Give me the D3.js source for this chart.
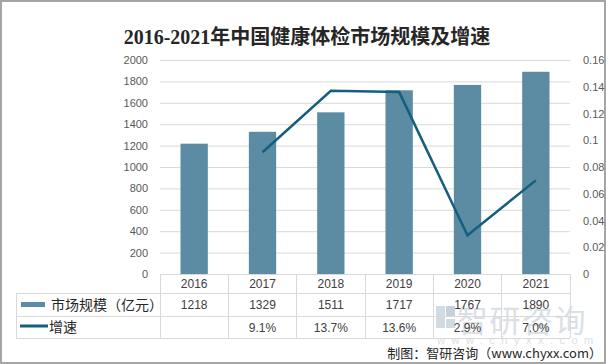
<!DOCTYPE html>
<html><head><meta charset="utf-8">
<script src="https://cdn.jsdelivr.net/npm/d3@7"></script>
<style>body{margin:0;background:#fff}svg{display:block}</style>
</head><body>
<script>
const years = ["2016","2017","2018","2019","2020","2021"];
const marketSize = [1218,1329,1511,1717,1767,1890];
const growth = [null,0.091,0.137,0.136,0.029,0.070];
const growthLabels = ["","9.1%","13.7%","13.6%","2.9%","7.0%"];
const leftTicks = [0,200,400,600,800,1000,1200,1400,1600,1800,2000];
const rightTicks = [0,0.02,0.04,0.06,0.08,0.1,0.12,0.14,0.16];
const title = "2016-2021年中国健康体检市场规模及增速";
const seriesNames = ["市场规模（亿元）","增速"];
const source = "制图：智研咨询（www.chyxx.com）";

const W=606,H=364;
const svg=d3.select("body").append("svg").attr("width",W).attr("height",H);
svg.append("rect").attr("x",1).attr("y",1).attr("width",W-2).attr("height",H-2)
  .attr("fill","#fff").attr("stroke","#a6a6a6").attr("stroke-width",2);

const sans = "'Liberation Sans','Noto Sans CJK SC',sans-serif";
const cjk = "'Noto Sans CJK SC',sans-serif";
svg.append("text").attr("x",307).attr("y",44).attr("text-anchor","middle")
  .attr("font-family","'Liberation Serif','Noto Sans CJK SC',serif").attr("font-weight","bold")
  .attr("font-size",20).attr("fill","#262626").text(title);

const x=d3.scaleBand().domain(years).range([160,570]).paddingInner(0.6).paddingOuter(0.3);
const xb=d3.scaleBand().domain(years).range([160,570]);
const y=d3.scaleLinear().domain([0,2000]).range([274,60]);
const y2=d3.scaleLinear().domain([0,0.16]).range([274,60]);

// gridlines
const gl=svg.append("g").attr("transform","translate(160,0)")
  .call(d3.axisLeft(y).tickValues(leftTicks).tickSize(-410).tickFormat(""));
gl.select(".domain").remove();
gl.selectAll("line").attr("stroke","#d9d9d9");

const la=svg.append("g").attr("transform","translate(150,0)")
  .call(d3.axisLeft(y).tickValues(leftTicks).tickSize(0).tickPadding(2).tickFormat(d=>String(d)));
la.select(".domain").remove();
la.selectAll("text").attr("font-family",sans).attr("font-size",11).attr("fill","#595959");

const ra=svg.append("g").attr("transform","translate(580,0)")
  .call(d3.axisRight(y2).tickValues(rightTicks).tickSize(0).tickPadding(3).tickFormat(d=>String(+d.toFixed(2))));
ra.select(".domain").remove();
ra.selectAll("text").attr("font-family",sans).attr("font-size",11).attr("fill","#595959");

const barColor="#5b8ca3", lineColor="#155f7d";
svg.append("g").selectAll("rect").data(years).join("rect")
  .attr("x",d=>x(d)).attr("width",x.bandwidth())
  .attr("y",(d,i)=>y(marketSize[i])).attr("height",(d,i)=>y(0)-y(marketSize[i]))
  .attr("fill",barColor);

const line=d3.line().defined(d=>d.v!=null).x(d=>xb(d.k)+xb.bandwidth()/2).y(d=>y2(d.v));
svg.append("path").datum(years.map((k,i)=>({k,v:growth[i]})))
  .attr("d",line).attr("fill","none").attr("stroke",lineColor).attr("stroke-width",2.5);

// watermark
const wm=svg.append("g").attr("opacity",0.8);
wm.append("rect").attr("x",436).attr("y",306).attr("width",9).attr("height",22).attr("fill","#c9d3dc");
wm.append("rect").attr("x",446).attr("y",306).attr("width",9).attr("height",11).attr("fill","#b7c6d3");
wm.append("rect").attr("x",446).attr("y",319).attr("width",9).attr("height",9).attr("fill","#c9d3dc");
wm.append("text").attr("x",457).attr("y",332).attr("font-family",cjk).attr("font-size",31)
  .attr("fill","#d3d9df").attr("letter-spacing",1.5).text("智研咨询");
wm.append("text").attr("x",437).attr("y",344).attr("font-family",sans).attr("font-size",11)
  .attr("fill","#d3d9df").attr("letter-spacing",6.5).text("www.chyxx.com");

// table
const tc="#d9d9d9";
const T=svg.append("g").attr("stroke",tc).attr("stroke-width",1).attr("shape-rendering","crispEdges");
T.append("line").attr("x1",160).attr("x2",570).attr("y1",274).attr("y2",274);
[293,316,338].forEach(v=>T.append("line").attr("x1",16).attr("x2",570).attr("y1",v).attr("y2",v));
T.append("line").attr("x1",16).attr("x2",16).attr("y1",293).attr("y2",338);
xb.domain().forEach(d=>T.append("line").attr("x1",xb(d)).attr("x2",xb(d)).attr("y1",274).attr("y2",338));
T.append("line").attr("x1",570).attr("x2",570).attr("y1",274).attr("y2",338);

const tt=svg.append("g").attr("font-family",sans).attr("font-size",12).attr("fill","#404040").attr("text-anchor","middle");
years.forEach((d,i)=>{
  const cx=xb(d)+xb.bandwidth()/2;
  tt.append("text").attr("x",cx).attr("y",288).text(d);
  tt.append("text").attr("x",cx).attr("y",309).text(marketSize[i]);
  tt.append("text").attr("x",cx).attr("y",332).text(growthLabels[i]);
});
svg.append("rect").attr("x",21).attr("y",302).attr("width",24).attr("height",5).attr("fill",barColor);
svg.append("text").attr("x",51).attr("y",310).attr("font-family",cjk).attr("font-size",14).attr("fill","#262626").text(seriesNames[0]);
svg.append("line").attr("x1",20).attr("x2",48).attr("y1",326).attr("y2",326).attr("stroke",lineColor).attr("stroke-width",3);
svg.append("text").attr("x",49).attr("y",332).attr("font-family",cjk).attr("font-size",14).attr("fill","#262626").text(seriesNames[1]);

svg.append("text").attr("x",602).attr("y",358).attr("text-anchor","end").attr("font-family",cjk)
  .attr("font-size",13).attr("fill","#262626").text(source);
</script>
</body></html>
